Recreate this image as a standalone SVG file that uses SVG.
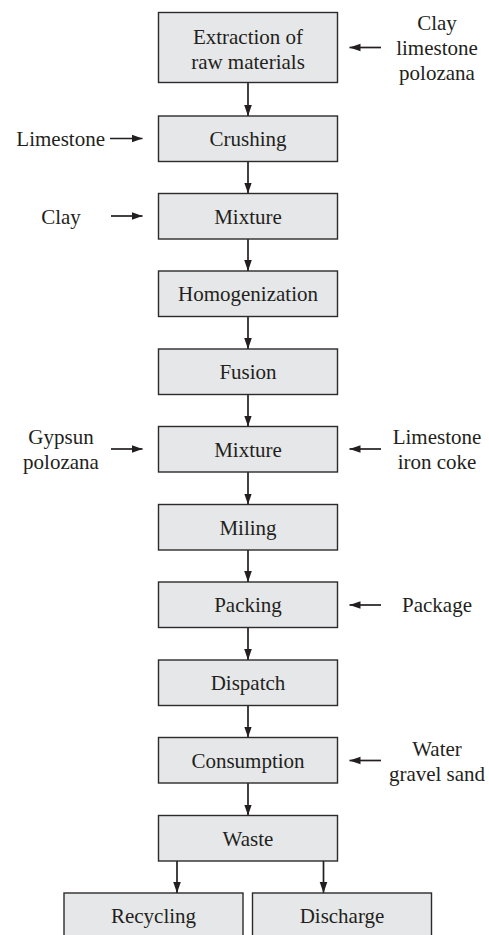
<svg xmlns="http://www.w3.org/2000/svg" width="489" height="935" viewBox="0 0 489 935">
<style>
.box{fill:#e6e7e9;stroke:#2b2b2b;stroke-width:1.4}
text{font-family:'Liberation Serif','Times New Roman',Times,serif;font-size:21px;fill:#231f20;text-anchor:middle}
.c{stroke:#231f20;stroke-width:1.7;fill:none;marker-end:url(#ah)}
</style>
<defs>
<marker id="ah" markerUnits="userSpaceOnUse" markerWidth="12" markerHeight="10" viewBox="0 0 12 10" refX="11" refY="5" orient="auto">
<path d="M0,1.2 L11,5 L0,8.8 Z" fill="#231f20"/>
</marker>
</defs>
<rect width="489" height="935" fill="#fff"/>
<g id="connectors">
<path class="c" d="M248,82.5 V116"/>
<path class="c" d="M248,161.5 V193.5"/>
<path class="c" d="M248,239 V271"/>
<path class="c" d="M248,316.5 V349"/>
<path class="c" d="M248,394.5 V426.5"/>
<path class="c" d="M248,472 V504.5"/>
<path class="c" d="M248,550 V582"/>
<path class="c" d="M248,627.5 V660"/>
<path class="c" d="M248,705.5 V737.5"/>
<path class="c" d="M248,783 V815.5"/>
<path class="c" d="M177,861 V893"/>
<path class="c" d="M323.5,861 V893"/>
<path class="c" d="M381,47.5 H349.5"/>
<path class="c" d="M110,138.5 H142.5"/>
<path class="c" d="M111,216 H142.5"/>
<path class="c" d="M111,449 H142.5"/>
<path class="c" d="M381,449 H349.5"/>
<path class="c" d="M381,605 H349.5"/>
<path class="c" d="M381,760.5 H349.5"/>
</g>
<g id="n1"><rect class="box" x="158.5" y="12.5" width="179" height="70"/><text x="248" y="43.5">Extraction of</text><text x="248" y="68.5">raw materials</text></g>
<g id="n2"><rect class="box" x="158.5" y="116" width="179" height="45.5"/><text x="248" y="146">Crushing</text></g>
<g id="n3"><rect class="box" x="158.5" y="193.5" width="179" height="45.5"/><text x="248" y="223.5">Mixture</text></g>
<g id="n4"><rect class="box" x="158.5" y="271" width="179" height="45.5"/><text x="248" y="301">Homogenization</text></g>
<g id="n5"><rect class="box" x="158.5" y="349" width="179" height="45.5"/><text x="248" y="379">Fusion</text></g>
<g id="n6"><rect class="box" x="158.5" y="426.5" width="179" height="45.5"/><text x="248" y="456.5">Mixture</text></g>
<g id="n7"><rect class="box" x="158.5" y="504.5" width="179" height="45.5"/><text x="248" y="534.5">Miling</text></g>
<g id="n8"><rect class="box" x="158.5" y="582" width="179" height="45.5"/><text x="248" y="612">Packing</text></g>
<g id="n9"><rect class="box" x="158.5" y="660" width="179" height="45.5"/><text x="248" y="690">Dispatch</text></g>
<g id="n10"><rect class="box" x="158.5" y="737.5" width="179" height="45.5"/><text x="248" y="767.5">Consumption</text></g>
<g id="n11"><rect class="box" x="158.5" y="815.5" width="179" height="45.5"/><text x="248" y="845.5">Waste</text></g>
<g id="n12"><rect class="box" x="64" y="893" width="179" height="45.5"/><text x="153.5" y="923">Recycling</text></g>
<g id="n13"><rect class="box" x="252.5" y="893" width="179" height="45.5"/><text x="342" y="923">Discharge</text></g>
<g id="inputs">
<text x="437" y="30">Clay</text><text x="437" y="55">limestone</text><text x="437" y="80">polozana</text>
<text x="105" y="146" style="text-anchor:end">Limestone</text>
<text x="61" y="223.5">Clay</text>
<text x="61" y="444">Gypsun</text><text x="61" y="469">polozana</text>
<text x="437" y="444">Limestone</text><text x="437" y="469">iron coke</text>
<text x="437" y="612">Package</text>
<text x="437" y="755.5">Water</text><text x="437" y="780.5">gravel sand</text>
</g>
</svg>
